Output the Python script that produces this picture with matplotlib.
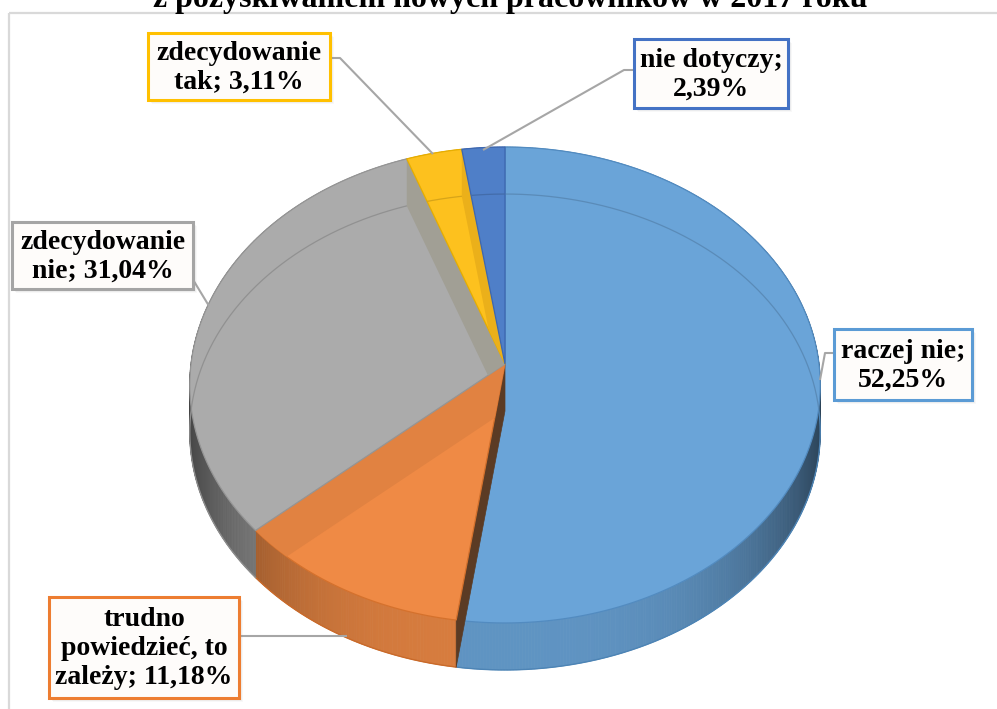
import numpy as np
import matplotlib
matplotlib.use('Agg')
import matplotlib.pyplot as plt
from matplotlib.patches import Polygon, Rectangle
from matplotlib.colors import to_rgb

# ---------------- data ----------------
categories = ['raczej nie', 'trudno powiedzieć, to zależy', 'zdecydowanie nie',
              'zdecydowanie tak', 'nie dotyczy']
values = [52.25, 11.18, 31.04, 3.11, 2.39]
label_texts = ['raczej nie;\n52,25%',
               'trudno\npowiedzieć, to\nzależy; 11,18%',
               'zdecydowanie\nnie; 31,04%',
               'zdecydowanie\ntak; 3,11%',
               'nie dotyczy;\n2,39%']
top_colors = ['#6aa4d8', '#ef8a45', '#ababab', '#fdc11e', '#4f7fc8']
edge_colors = ['#5b9bd5', '#ed7d31', '#a5a5a5', '#ffc000', '#4472c4']
title = 'z pozyskiwaniem nowych pracowników w 2017 roku'

# label boxes (x0, y0, x1, y1) in pixels, leader polylines
boxes = [(834, 329, 972, 400), (49, 597, 239, 698), (12, 222, 193, 289),
         (148, 33, 330, 100), (634, 39, 788, 108)]
leaders = [[(834, 353), (825, 353), (820, 380)],
           [(239, 636), (347, 636)],
           [(192, 278), (209, 306)],
           [(330, 58), (340, 58), (433, 154)],
           [(634, 70), (624, 70), (483, 150)]]

W, H = 997, 709
fig = plt.figure(figsize=(9.97, 7.09), dpi=100)
ax = fig.add_axes([0, 0, 1, 1])
ax.set_xlim(0, W)
ax.set_ylim(H, 0)
ax.axis('off')

# chart frame (cropped)
ax.add_patch(Rectangle((9, 12.5), 1100, 800, fill=False, ec='#d9d9d9', lw=1.6, zorder=0))
ax.text(510, 7.5, title, ha='center', va='baseline', fontsize=23,
        family='Liberation Serif', weight='bold', color='black', zorder=1)

XC, YC, RX, RY, K, D = 505, 364, 314, 236.1, 0.0882, 47


def proj(theta, r=1.0, dz=0.0):
    t = np.radians(theta)
    u = r * np.cos(t)
    v = r * np.sin(t)
    s = 1 + K * v
    return XC + RX * u / s, YC - RY * v / s + dz


def shade(c, f):
    r, g, b = to_rgb(c)
    return (min(r * f, 1), min(g * f, 1), min(b * f, 1))


total = sum(values)
bounds = [90.0]
for v in values:
    bounds.append(bounds[-1] - v / total * 360.0)

# ---- side walls ----
for i, c in enumerate(top_colors):
    a1, a2 = bounds[i], bounds[i + 1]
    n = max(4, int(abs(a1 - a2) * 2))
    ts = np.linspace(a1, a2, n + 1)
    for j in range(n):
        tm = 0.5 * (ts[j] + ts[j + 1])
        u = np.cos(np.radians(tm))
        f = 0.9 - 0.5 * abs(u) ** 3
        x1, y1 = proj(ts[j]); x2, y2 = proj(ts[j + 1])
        pts = [(x1, y1), (x2, y2), (x2, y2 + D), (x1, y1 + D)]
        ax.add_patch(Polygon(pts, closed=True, fc=shade(c, f), ec=shade(c, f),
                             lw=0.6, zorder=2))
    tt = np.linspace(a1, a2, n * 2)
    xb, yb = proj(tt, dz=D)
    ax.plot(xb, yb, color=shade(edge_colors[i], 0.85), lw=1.0, zorder=2.5)

# ---- top surfaces ----
top_polys = []
for i, c in enumerate(top_colors):
    a1, a2 = bounds[i], bounds[i + 1]
    tt = np.linspace(a1, a2, max(10, int(abs(a1 - a2) * 3)))
    xs, ys = proj(tt)
    pts = [(XC, YC)] + list(zip(xs, ys))
    top_polys.append(pts)

z = 3
for i in range(len(values)):
    p = Polygon(top_polys[i], closed=True, fc=top_colors[i],
                ec=shade(edge_colors[i], 0.9), lw=0.9, zorder=z)
    ax.add_patch(p)
    # faint bottom ellipse seen through the top
    tt = np.linspace(0, 360, 400)
    xb, yb = proj(tt, dz=D)
    ln, = ax.plot(xb, yb, color=shade(top_colors[i], 0.85), lw=0.9, zorder=z + 0.1)
    ln.set_clip_path(p)
    a_end = bounds[i + 1]
    xr, yr = proj(a_end)
    face = [(XC, YC), (xr, yr), (xr, yr + D), (XC, YC + D)]
    if i == 1:
        fp = Polygon(face, closed=True, fc=shade(top_colors[1], 0.94), ec='none', zorder=z + 0.2)
        ax.add_patch(fp)
        fp.set_clip_path(p)
    if i == 2:
        fp = Polygon(face, closed=True, fc='#a19f95', ec='none', zorder=z + 0.2)
        ax.add_patch(fp)
        fp.set_clip_path(p)
    if i == 3:
        fp = Polygon(face, closed=True, fc='#ebb01a', ec='none', zorder=z + 0.2)
        ax.add_patch(fp)
        fp.set_clip_path(p)
    z += 1
    if i == 0:
        xr, yr = proj(bounds[1])
        face = [(XC, YC), (xr, yr), (xr, yr + D), (XC, YC + D)]
        ax.add_patch(Polygon(face, closed=True, fc='#5b3b24', ec='#5b3b24', lw=0.5, zorder=z))
        z += 1

# ---- labels ----
for i, txt in enumerate(label_texts):
    x0, y0, x1, y1 = boxes[i]
    xs, ys = zip(*leaders[i])
    ax.plot(xs, ys, color='#a6a6a6', lw=1.5, zorder=20, solid_capstyle='butt')
    for k, a in [(4, 0.05), (3, 0.07), (2, 0.09)]:
        ax.add_patch(Rectangle((x0 + k, y0 + k), x1 - x0, y1 - y0, fc='#7f7f7f',
                               ec='none', alpha=a, zorder=21))
    ax.add_patch(Rectangle((x0, y0), x1 - x0, y1 - y0, fc='#fefcfa',
                           ec=edge_colors[i], lw=2.2, zorder=22))
    ax.text((x0 + x1) / 2, (y0 + y1) / 2 + 1, txt, ha='center', va='center',
            fontsize=20, family='Liberation Serif', weight='bold', color='black',
            linespacing=1.2, zorder=23)

fig.savefig('out.png', dpi=100)
